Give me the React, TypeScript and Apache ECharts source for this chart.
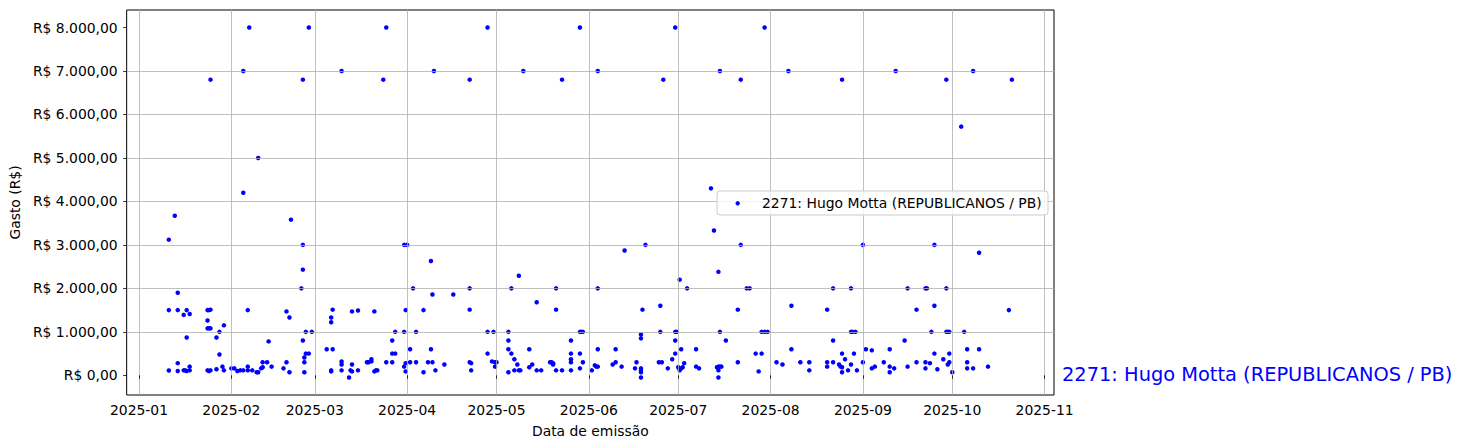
import React, { useEffect, useRef } from "react";
import * as echarts from "echarts";

const FONT = "DejaVu Sans";
const SERIES_NAME = "2271: Hugo Motta (REPUBLICANOS / PB)";
const X_AXIS_NAME = "Data de emissão";
const Y_AXIS_NAME = "Gasto (R$)";

// [data de emissão, valor em R$]
const jan: [string, number][] = [
  ["2025-01-11", 1500], ["2025-01-11", 110], ["2025-01-11", 3120], ["2025-01-13", 3670],
  ["2025-01-14", 1900], ["2025-01-14", 1500], ["2025-01-14", 280], ["2025-01-14", 100],
  ["2025-01-16", 1390], ["2025-01-16", 115], ["2025-01-16T12", 115], ["2025-01-17", 1500],
  ["2025-01-17", 870], ["2025-01-17", 100], ["2025-01-18", 1410], ["2025-01-18", 115],
  ["2025-01-18", 200], ["2025-01-24", 1500], ["2025-01-24T12", 1500], ["2025-01-25", 1510],
  ["2025-01-24", 1260], ["2025-01-24", 1080], ["2025-01-24T12", 1080], ["2025-01-25", 1080],
  ["2025-01-24", 115], ["2025-01-24T12", 100], ["2025-01-25", 115], ["2025-01-25", 6800],
  ["2025-01-27", 870], ["2025-01-27", 140], ["2025-01-28", 1000], ["2025-01-28", 480],
  ["2025-01-29", 200], ["2025-01-29T12", 1150], ["2025-01-29T12", 115],
];
const feb: [string, number][] = [
  ["2025-02-01", 160], ["2025-02-02", 160], ["2025-02-03", 100], ["2025-02-04", 115],
  ["2025-02-05", 7000], ["2025-02-05", 4200], ["2025-02-05", 115], ["2025-02-06T12", 1500],
  ["2025-02-06T12", 200], ["2025-02-06T12", 115], ["2025-02-07", 8000], ["2025-02-08", 115],
  ["2025-02-09T12", 70], ["2025-02-10", 5000], ["2025-02-10", 70], ["2025-02-11", 160],
  ["2025-02-11T12", 185], ["2025-02-11T12", 300], ["2025-02-13", 300], ["2025-02-13T12", 780],
  ["2025-02-14T12", 200], ["2025-02-18T12", 160], ["2025-02-19T12", 1470], ["2025-02-19T12", 300],
  ["2025-02-20T12", 1330], ["2025-02-20T12", 70], ["2025-02-21", 3580], ["2025-02-24T12", 2000],
  ["2025-02-25", 6800], ["2025-02-25", 3000], ["2025-02-25", 2430], ["2025-02-25", 800],
  ["2025-02-25T12", 410], ["2025-02-25T12", 300], ["2025-02-25T12", 70], ["2025-02-26", 1000],
  ["2025-02-26", 500], ["2025-02-27", 8000], ["2025-02-27", 500], ["2025-02-28", 1000],
];
const mar: [string, number][] = [
  ["2025-03-05", 600], ["2025-03-06T12", 1330], ["2025-03-06T12", 1220], ["2025-03-06T12", 115],
  ["2025-03-06T12", 90], ["2025-03-07", 1510], ["2025-03-07", 600], ["2025-03-10", 7000],
  ["2025-03-10", 320], ["2025-03-10", 250], ["2025-03-10", 115], ["2025-03-12T12", -50],
  ["2025-03-13", 115], ["2025-03-13T12", 1470], ["2025-03-13T12", 250], ["2025-03-13T12", 90],
  ["2025-03-15T12", 1490], ["2025-03-15T12", 115], ["2025-03-18T12", 300], ["2025-03-19", 300],
  ["2025-03-20", 320], ["2025-03-20", 370], ["2025-03-21", 1470], ["2025-03-21", 90],
  ["2025-03-21T12", 115], ["2025-03-22", 115], ["2025-03-24", 6800], ["2025-03-25", 8000],
  ["2025-03-25", 300], ["2025-03-27", 800], ["2025-03-27", 500], ["2025-03-27", 300],
  ["2025-03-28", 1000], ["2025-03-28", 500], ["2025-03-31", 3000], ["2025-03-31", 1000],
  ["2025-03-31", 200], ["2025-03-31T12", 1500], ["2025-03-31T12", 280], ["2025-03-31T12", 90],
];
const apr: [string, number][] = [
  ["2025-04-01", 3000], ["2025-04-02", 600], ["2025-04-02", 300], ["2025-04-03", 2000],
  ["2025-04-04", 1000], ["2025-04-04", 300], ["2025-04-06T12", 1500], ["2025-04-06T12", 70],
  ["2025-04-08", 300], ["2025-04-09", 2630], ["2025-04-09", 600], ["2025-04-09T12", 1860],
  ["2025-04-09T12", 300], ["2025-04-10", 7000], ["2025-04-10T12", 115], ["2025-04-13T12", 250],
  ["2025-04-16T12", 1860], ["2025-04-22", 6800], ["2025-04-22", 2000], ["2025-04-22", 1510],
  ["2025-04-22", 300], ["2025-04-22T12", 280], ["2025-04-22T12", 115], ["2025-04-28", 8000],
  ["2025-04-28", 1000], ["2025-04-28", 500], ["2025-04-29T12", 320], ["2025-04-30", 1000],
  ["2025-04-30T12", 300], ["2025-04-30T12", 200],
];
const may: [string, number][] = [
  ["2025-05-01", 300], ["2025-05-05", 1000], ["2025-05-05", 800], ["2025-05-05", 600],
  ["2025-05-05", 70], ["2025-05-06", 2000], ["2025-05-06", 500], ["2025-05-07", 370],
  ["2025-05-07", 115], ["2025-05-08", 250], ["2025-05-08T12", 2290], ["2025-05-08T12", 115],
  ["2025-05-09", 115], ["2025-05-10", 7000], ["2025-05-12", 600], ["2025-05-12", 185],
  ["2025-05-13", 250], ["2025-05-14T12", 1680], ["2025-05-14T12", 115], ["2025-05-16", 115],
  ["2025-05-19", 300], ["2025-05-19T12", 300], ["2025-05-20", 280], ["2025-05-20", 250],
  ["2025-05-21", 2000], ["2025-05-21", 1510], ["2025-05-21", 115], ["2025-05-23", 6800],
  ["2025-05-23", 115], ["2025-05-26", 800], ["2025-05-26", 500], ["2025-05-26", 370],
  ["2025-05-26", 300], ["2025-05-26", 115], ["2025-05-29", 8000], ["2025-05-29", 1000],
  ["2025-05-29", 500], ["2025-05-29", 160], ["2025-05-29T12", 1000], ["2025-05-30", 1000],
  ["2025-05-30", 300],
];
const jun: [string, number][] = [
  ["2025-06-02", 115], ["2025-06-03", 230], ["2025-06-03T12", 200], ["2025-06-04", 7000],
  ["2025-06-04", 2000], ["2025-06-04", 600], ["2025-06-04", 200], ["2025-06-09", 250],
  ["2025-06-10", 600], ["2025-06-10", 300], ["2025-06-12", 200], ["2025-06-13", 2870],
  ["2025-06-16T12", 160], ["2025-06-17", 300], ["2025-06-18T12", 940], ["2025-06-18T12", 850],
  ["2025-06-18T12", 160], ["2025-06-18T12", 115], ["2025-06-18T12", 70], ["2025-06-18T12", -50],
  ["2025-06-19", 1510], ["2025-06-20", 3000], ["2025-06-24T12", 300], ["2025-06-25", 1600],
  ["2025-06-25", 1000], ["2025-06-25T12", 300], ["2025-06-26", 6800], ["2025-06-27T12", 160],
  ["2025-06-29", 370], ["2025-06-30", 8000], ["2025-06-30", 1000], ["2025-06-30", 800],
  ["2025-06-30", 500], ["2025-06-30T12", 1000],
];
const jul: [string, number][] = [
  ["2025-07-01", 185], ["2025-07-01T12", 2200], ["2025-07-01T12", 140], ["2025-07-01T12", 115],
  ["2025-07-02", 600], ["2025-07-02", 160], ["2025-07-02T12", 185], ["2025-07-03", 280],
  ["2025-07-04", 2000], ["2025-07-07", 600], ["2025-07-07", 200], ["2025-07-08", 160],
  ["2025-07-12", 4300], ["2025-07-13", 3330], ["2025-07-14", 185], ["2025-07-14T12", 2380],
  ["2025-07-14T12", 200], ["2025-07-14T12", 115], ["2025-07-14T12", -50], ["2025-07-15", 7000],
  ["2025-07-15", 1000], ["2025-07-15", 200], ["2025-07-15T12", 200], ["2025-07-17", 800],
  ["2025-07-21", 1510], ["2025-07-21", 300], ["2025-07-22", 6800], ["2025-07-22", 3000],
  ["2025-07-24", 2000], ["2025-07-25", 2000], ["2025-07-27", 500], ["2025-07-28", 90],
  ["2025-07-29", 1000], ["2025-07-29", 500], ["2025-07-30", 8000], ["2025-07-30", 1000],
  ["2025-07-31", 1000],
];
const aug: [string, number][] = [
  ["2025-08-03", 300], ["2025-08-05", 250], ["2025-08-07", 7000], ["2025-08-08", 1600],
  ["2025-08-08", 600], ["2025-08-11", 300], ["2025-08-14", 300], ["2025-08-14", 115],
  ["2025-08-20", 1510], ["2025-08-20", 300], ["2025-08-20", 200], ["2025-08-22", 2000],
  ["2025-08-22", 800], ["2025-08-22", 300], ["2025-08-24", 250], ["2025-08-24T12", 200],
  ["2025-08-25", 6800], ["2025-08-25", 500], ["2025-08-25", 185], ["2025-08-25", 70],
  ["2025-08-26", 370], ["2025-08-27", 115], ["2025-08-28", 2000], ["2025-08-28", 1000],
  ["2025-08-28", 250], ["2025-08-28T12", 1000], ["2025-08-29", 500], ["2025-08-29T12", 1000],
  ["2025-08-30", 115],
];
const sep: [string, number][] = [
  ["2025-09-01", 3000], ["2025-09-01", 300], ["2025-09-02", 600], ["2025-09-04", 575],
  ["2025-09-04", 160], ["2025-09-05", 200], ["2025-09-08", 300], ["2025-09-10", 600],
  ["2025-09-10", 200], ["2025-09-10", 70], ["2025-09-11T12", 160], ["2025-09-12", 7000],
  ["2025-09-15", 800], ["2025-09-16", 2000], ["2025-09-16", 200], ["2025-09-19", 1510],
  ["2025-09-19", 300], ["2025-09-22", 2000], ["2025-09-22", 300], ["2025-09-22", 160],
  ["2025-09-22T12", 2000], ["2025-09-23T12", 280], ["2025-09-24", 1000], ["2025-09-25", 3000],
  ["2025-09-25", 1600], ["2025-09-25", 500], ["2025-09-26", 140], ["2025-09-28", 370],
  ["2025-09-29", 6800], ["2025-09-29", 2000], ["2025-09-29", 1000], ["2025-09-29T12", 1000],
  ["2025-09-29T12", 250], ["2025-09-30", 1000], ["2025-09-30", 500], ["2025-09-30", 300],
];
const oct: [string, number][] = [
  ["2025-10-01", 70], ["2025-10-04", 5720], ["2025-10-05", 1000], ["2025-10-06", 600],
  ["2025-10-06", 300], ["2025-10-06", 160], ["2025-10-08", 7000], ["2025-10-08", 160],
  ["2025-10-10", 2820], ["2025-10-10", 600], ["2025-10-13", 200], ["2025-10-20", 1500],
  ["2025-10-21", 6800],
];

const yTickValues = [0, 1000, 2000, 3000, 4000, 5000, 6000, 7000, 8000];

function toTime(s: string): number {
  const [datePart, hourPart] = s.split("T");
  const [y, m, d] = datePart.split("-").map(Number);
  return new Date(y, m - 1, d || 1, hourPart ? Number(hourPart) : 0).getTime();
}

function brl(v: number): string {
  const sign = v < 0 ? "-" : "";
  const [i, dec] = Math.abs(v).toFixed(2).split(".");
  return `R$ ${sign}${i.replace(/\B(?=(\d{3})+(?!\d))/g, ".")},${dec}`;
}

function monthLabel(v: number): string {
  const d = new Date(v);
  return `${d.getFullYear()}-${String(d.getMonth() + 1).padStart(2, "0")}`;
}

const FS = 13.9;

export default function App() {
  const ref = useRef<HTMLDivElement>(null);
  useEffect(() => {
    if (!ref.current) return;
    const chart = echarts.init(ref.current, undefined, { renderer: "svg" });
    const all = [...jan, ...feb, ...mar, ...apr, ...may, ...jun, ...jul, ...aug, ...sep, ...oct];
    const data = all.map(([d, v]) => [toTime(d), v]);
    const xs = data.map((p) => p[0]);
    const ys = data.map((p) => p[1]);
    const xMin0 = Math.min(...xs), xMax0 = Math.max(...xs);
    const yMin0 = Math.min(...ys), yMax0 = Math.max(...ys);
    const xPad = (xMax0 - xMin0) * 0.05;
    const yPad = (yMax0 - yMin0) * 0.05;

    chart.setOption({
      animation: false,
      backgroundColor: "#ffffff",
      textStyle: { fontFamily: FONT },
      grid: {
        left: 124,
        right: 409,
        top: 10,
        bottom: 53,
        show: true,
        borderColor: "#000000",
        borderWidth: 1,
        backgroundColor: "#ffffff",
      },
      xAxis: {
        type: "time",
        min: xMin0 - xPad,
        max: xMax0 + xPad,
        splitNumber: 10,
        z: 3,
        name: X_AXIS_NAME,
        nameLocation: "middle",
        nameGap: 29,
        nameTextStyle: { fontFamily: FONT, fontSize: FS, color: "#000" },
        axisLine: { show: false },
        axisTick: {
          show: true,
          length: 3.5,
          lineStyle: { color: "#000", width: 0.8 },
        },
        axisLabel: {
          fontFamily: FONT,
          fontSize: FS,
          color: "#000",
          margin: 8,
          formatter: (v: number) => monthLabel(v),
          showMinLabel: false,
          showMaxLabel: false,
        },
        splitLine: {
          show: true,
          showMinLine: false,
          showMaxLine: false,
          lineStyle: { color: "#b0b0b0", width: 0.8 },
        },
      },
      yAxis: {
        type: "value",
        min: yMin0 - yPad,
        max: yMax0 + yPad,
        splitNumber: 9,
        z: 3,
        name: Y_AXIS_NAME,
        nameLocation: "middle",
        nameGap: 102,
        nameTextStyle: { fontFamily: FONT, fontSize: FS, color: "#000" },
        axisLine: { show: false },
        axisTick: {
          show: true,
          length: 3.5,
          lineStyle: { color: "#000", width: 0.8 },
          customValues: yTickValues,
        },
        axisLabel: {
          fontFamily: FONT,
          fontSize: FS,
          color: "#000",
          margin: 9,
          customValues: yTickValues,
          formatter: (v: number) => brl(v),
        },
        splitLine: {
          show: true,
          showMinLine: false,
          showMaxLine: false,
          lineStyle: { color: "#b0b0b0", width: 0.8 },
        },
      },
      legend: { show: false },
      series: [
        {
          name: SERIES_NAME,
          type: "scatter",
          symbol: "circle",
          symbolSize: 4.5,
          itemStyle: { color: "#0000ff", opacity: 1 },
          data,
        },
      ],
      graphic: [
        {
          type: "group",
          z: 100,
          children: [
            {
              type: "rect",
              z: 100,
              shape: { x: 717, y: 191, width: 331, height: 24, r: 3 },
              style: { fill: "rgba(255,255,255,0.8)", stroke: "#cccccc", lineWidth: 1 },
            },
            {
              type: "circle",
              z: 101,
              shape: { cx: 737.7, cy: 203.3, r: 2.2 },
              style: { fill: "#0000ff" },
            },
            {
              type: "text",
              z: 101,
              x: 762,
              y: 203,
              style: {
                text: SERIES_NAME,
                fill: "#000000",
                fontFamily: FONT,
                fontSize: FS,
                verticalAlign: "middle",
              },
            },
          ],
        },
        {
          type: "text",
          x: 1062,
          y: 374,
          style: {
            text: SERIES_NAME,
            fill: "#0000ff",
            fontFamily: FONT,
            fontSize: 19.4,
            verticalAlign: "middle",
          },
        },
      ],
    });
    return () => chart.dispose();
  }, []);
  return (
    <div
      ref={ref}
      style={{ position: "fixed", left: 0, top: 0, width: 1463, height: 448 }}
    />
  );
}
